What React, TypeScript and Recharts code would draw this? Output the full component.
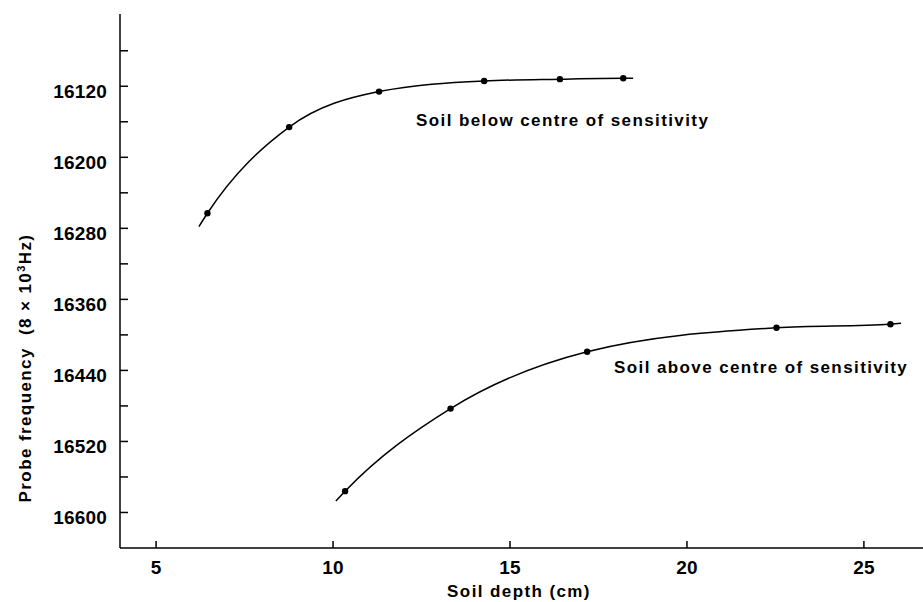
import React from 'react';
import { ComposedChart, Line, Scatter, XAxis, YAxis } from 'recharts';

// measured points (soil depth in cm, probe frequency)
const belowDepth = [6.45, 8.76, 11.3, 14.27, 16.41, 18.2];
const belowFreq = [16263, 16166, 16126, 16114, 16112, 16111];
const aboveDepth = [10.34, 13.32, 17.18, 22.53, 25.75];
const aboveFreq = [16576, 16483, 16419, 16392, 16388];

// fitted curves run a little past the first and last points
const belowCurveDepth = [6.21, 6.45, 8.76, 11.3, 14.27, 16.41, 18.2, 18.48];
const belowCurveFreq = [16278, 16263, 16166, 16126, 16114, 16112, 16111, 16111];
const aboveCurveDepth = [10.08, 10.34, 13.32, 17.18, 22.53, 25.75, 26.05];
const aboveCurveFreq = [16587, 16576, 16483, 16419, 16392, 16388, 16387];

const xTicks = [5, 10, 15, 20, 25];
const yLabelTicks = [16120, 16200, 16280, 16360, 16440, 16520, 16600];
const yMinorTicks = [16080, 16160, 16240, 16320, 16400, 16480, 16560];

const zip = (xs: number[], ys: number[]) => xs.map((depth, i) => ({ depth, freq: ys[i] }));

const belowPoints = zip(belowDepth, belowFreq);
const abovePoints = zip(aboveDepth, aboveFreq);
const belowCurve = zip(belowCurveDepth, belowCurveFreq);
const aboveCurve = zip(aboveCurveDepth, aboveCurveFreq);
const yTicks = [...yMinorTicks, ...yLabelTicks].sort((a, b) => a - b);

const FONT = '"Liberation Sans", Arial, Helvetica, sans-serif';
const textStyle = { fontFamily: FONT, fontWeight: 700, fontSize: 17, letterSpacing: 1.4, fill: '#000' };
const tickStyle = { fontFamily: FONT, fontWeight: 700, fontSize: 19, letterSpacing: 0.2, fill: '#000' };

const XTick = ({ x, y, payload }: any) => (
  <g>
    <line x1={x} y1={y} x2={x} y2={y - 7} stroke="#000" strokeWidth={1.5} />
    <text x={x} y={y + 26} textAnchor="middle" style={tickStyle}>{payload.value}</text>
  </g>
);

const YTick = ({ x, y, payload }: any) => (
  <g>
    <line x1={x} y1={y} x2={x + 8} y2={y} stroke="#000" strokeWidth={1.5} />
    {yLabelTicks.includes(payload.value) && (
      <text x={x - 13} y={y + 11.5} textAnchor="end" style={tickStyle}>{payload.value}</text>
    )}
  </g>
);

const Dot = (props: any) => <circle cx={props.cx} cy={props.cy} r={3.2} fill="#000" />;

export default function App() {
  return (
    <div style={{ position: 'absolute', left: 0, top: 0, width: 923, height: 602, background: '#fff' }}>
      <ComposedChart width={923} height={602} margin={{ top: 14, right: 0, bottom: 0, left: 0 }}>
        <XAxis
          dataKey="depth"
          type="number"
          domain={[3.98, 26.67]}
          ticks={xTicks}
          allowDataOverflow
          height={54}
          tickSize={0}
          tickMargin={0}
          tickLine={false}
          tick={<XTick />}
          axisLine={{ stroke: '#000', strokeWidth: 1.5 }}
        />
        <XAxis
          xAxisId="top"
          orientation="top"
          type="number"
          domain={[3.98, 26.67]}
          height={0}
          tick={false}
          tickLine={false}
          axisLine={{ stroke: '#000', strokeWidth: 1.5 }}
        />
        <YAxis
          type="number"
          reversed
          domain={[16038.6, 16640]}
          ticks={yTicks}
          interval={0}
          allowDataOverflow
          width={120}
          tickSize={0}
          tickMargin={0}
          tickLine={false}
          tick={<YTick />}
          axisLine={{ stroke: '#000', strokeWidth: 1.5 }}
        />
        <Line data={belowCurve} dataKey="freq" type="monotone" stroke="#000" strokeWidth={1.5} dot={false} isAnimationActive={false} />
        <Line data={aboveCurve} dataKey="freq" type="monotone" stroke="#000" strokeWidth={1.5} dot={false} isAnimationActive={false} />
        <Scatter data={belowPoints} dataKey="freq" shape={<Dot />} isAnimationActive={false} />
        <Scatter data={abovePoints} dataKey="freq" shape={<Dot />} isAnimationActive={false} />
        <text x={416} y={126} style={textStyle}>Soil below centre of sensitivity</text>
        <text x={614} y={373} style={textStyle}>Soil above centre of sensitivity</text>
        <text x={519} y={597} textAnchor="middle" style={textStyle}>Soil depth (cm)</text>
        <text x={31} y={368} textAnchor="middle" transform="rotate(-90 31 368)" style={textStyle}>
          <tspan>{'Probe frequency\u00a0\u00a0(8 × 10'}</tspan>
          <tspan dy={-6} fontSize={11}>3</tspan>
          <tspan dy={6}>Hz)</tspan>
        </text>
      </ComposedChart>
    </div>
  );
}
